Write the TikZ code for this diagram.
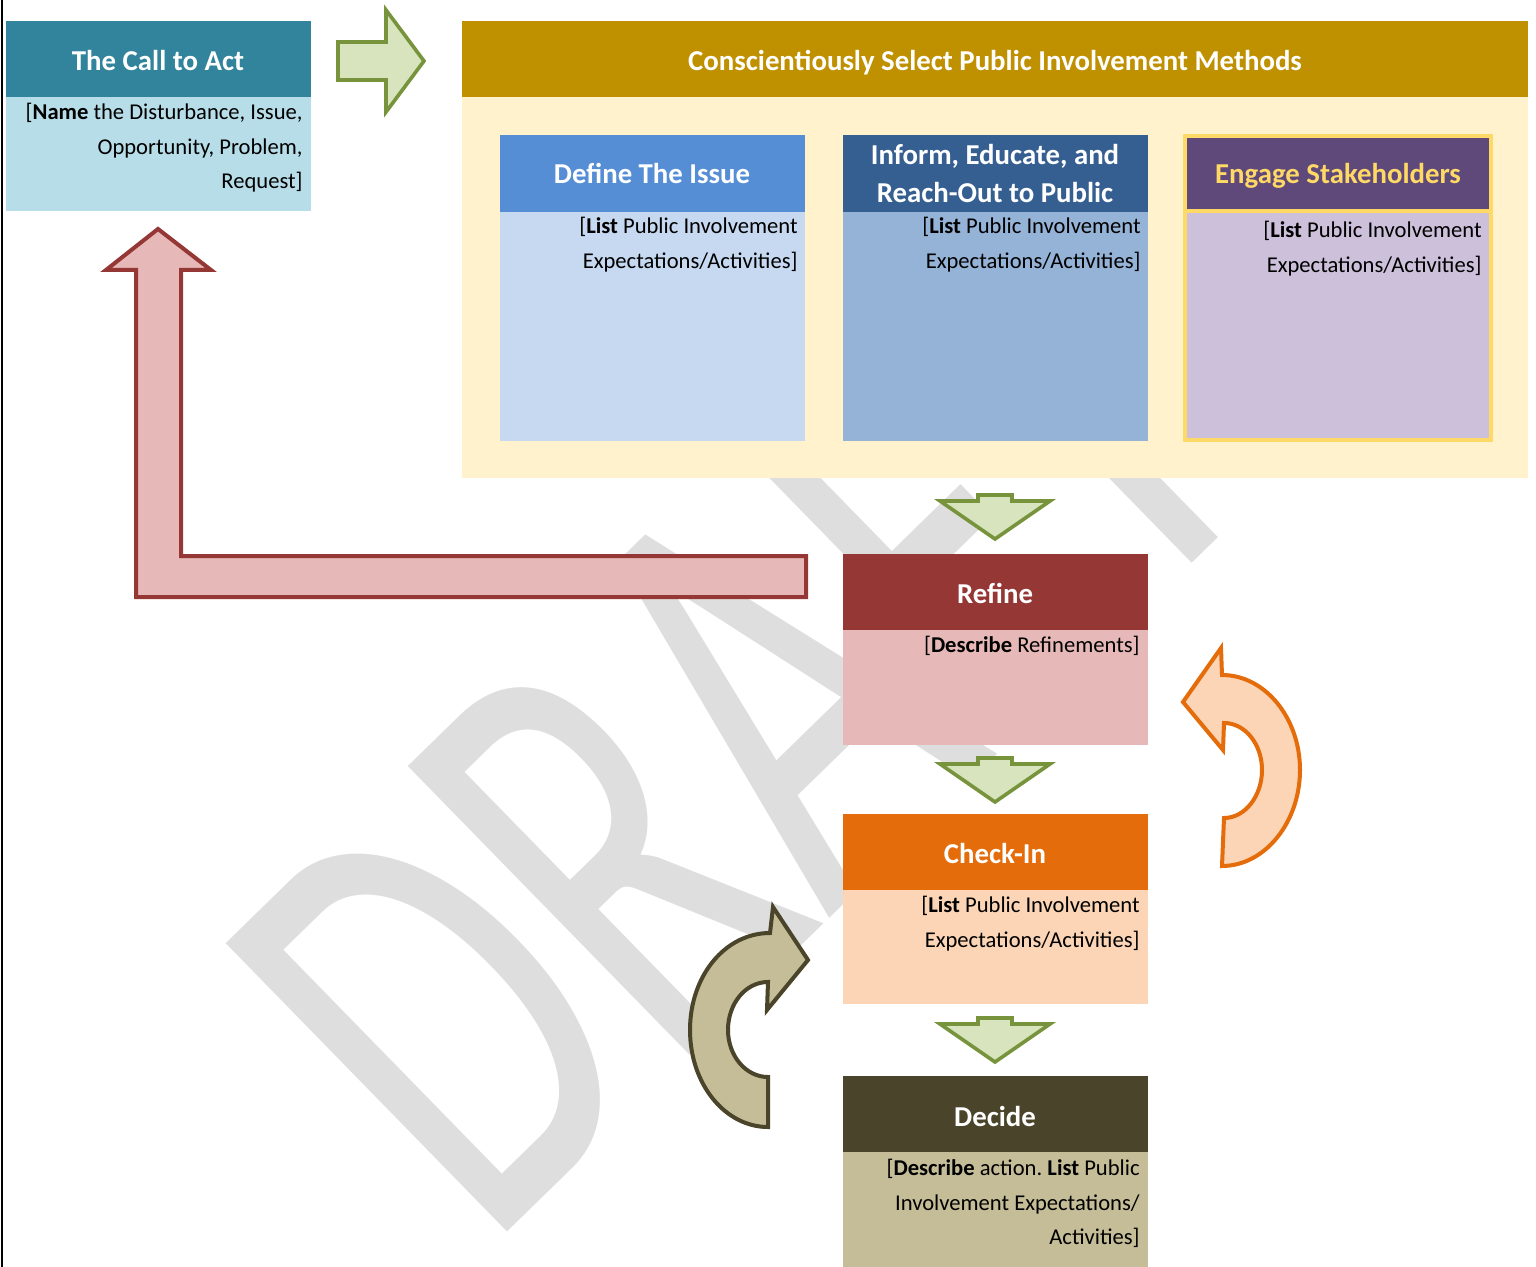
\documentclass[tikz,border=0pt]{standalone}
\usepackage{fontspec}
\usepackage{graphicx}
\setmainfont{Carlito}
\frenchspacing
\usetikzlibrary{fit}
\definecolor{tealH}{HTML}{31849B}
\definecolor{tealB}{HTML}{B7DEE8}
\definecolor{goldH}{HTML}{BF9000}
\definecolor{cream}{HTML}{FFF2CC}
\definecolor{defH}{HTML}{558ED5}
\definecolor{defB}{HTML}{C6D9F1}
\definecolor{infH}{HTML}{365F91}
\definecolor{infB}{HTML}{95B3D7}
\definecolor{engH}{HTML}{5F497A}
\definecolor{engB}{HTML}{CCC0DA}
\definecolor{engY}{HTML}{FFD966}
\definecolor{refH}{HTML}{953735}
\definecolor{refB}{HTML}{E6B9B8}
\definecolor{chkH}{HTML}{E46C0A}
\definecolor{chkB}{HTML}{FBD5B5}
\definecolor{decH}{HTML}{4A452A}
\definecolor{decB}{HTML}{C4BD97}
\definecolor{grF}{HTML}{D7E4BD}
\definecolor{grD}{HTML}{77933C}
\definecolor{wm}{HTML}{DEDEDE}
\tikzset{
  boxr/.style={inner sep=0pt, outer sep=0pt, draw=none},
  hdr/.style={inner sep=0pt, text=white, anchor=base, align=center,
    font=\fontsize{14.4bp}{19bp}\selectfont\bfseries},
  bodytxt/.style={inner sep=0pt, text=black, anchor=north east, align=right,
    font=\fontsize{11.3bp}{17.25bp}\selectfont},
  grarrow/.style={fill=grF, draw=grD, line width=1.8bp, line join=miter},
  redarrow/.style={fill=refB, draw=refH, line width=2bp},
  orarrow/.style={fill=chkB, draw=chkH, line width=2bp},
  olarrow/.style={fill=decB, draw=decH, line width=2bp},
}
\newcommand{\dnarrow}[2]{\draw[grarrow, shift={(#1,#2)}] (-17,0) -- (17,0) -- (17,6) -- (55,6) -- (0,44) -- (-55,6) -- (-17,6) -- cycle;}
\begin{document}
\begin{tikzpicture}[x=0.5bp,y=-0.5bp]
\useasboundingbox (0,0) rectangle (1536,1267);
\fill[white] (0,0) rectangle (1536,1267);
% watermark
\node[rotate=44.3, anchor=base west, inner sep=0pt, text=wm,
  font=\fontsize{314bp}{314bp}\selectfont] (draft) at (487,1252) {\scalebox{0.655}[1]{DRAFT}};
% left rule
\draw[line width=1.2bp, black] (2,0) -- (2,1267);
% call to act
\node[boxr, fill=tealH, fit={(6,21)(311,97)}] (callH) {};
\node[boxr, fill=tealB, fit={(6,97)(311,211)}] (callB) {};
\node[hdr] (callT) at (158,70.5) {The Call to Act};
\node[bodytxt] (callX) at (303,103) {[\textbf{Name} the Disturbance, Issue,\\Opportunity, Problem,\\Request]};
% select
\node[boxr, fill=goldH, fit={(462,21)(1528,97)}] (selH) {};
\node[boxr, fill=cream, fit={(462,97)(1528,478)}] (selB) {};
\node[hdr] (selT) at (995,70.5) {Conscientiously Select Public Involvement Methods};
% define
\node[boxr, fill=defH, fit={(500,135)(805,212)}] (defHb) {};
\node[boxr, fill=defB, fit={(500,212)(805,441)}] (defBb) {};
\node[hdr] (defT) at (652,184) {Define The Issue};
\node[bodytxt] (defX) at (798,217) {[\textbf{List} Public Involvement\\Expectations/Activities]};
% inform
\node[boxr, fill=infH, fit={(843,135)(1148,212)}] (infHb) {};
\node[boxr, fill=infB, fit={(843,212)(1148,441)}] (infBb) {};
\node[hdr] (infT) at (995,203) {Inform, Educate, and\\Reach-Out to Public};
\node[bodytxt] (infX) at (1141,217) {[\textbf{List} Public Involvement\\Expectations/Activities]};
% engage
\node[boxr, fill=engY, fit={(1183,134)(1493,442)}] (engF) {};
\node[boxr, fill=engH, fit={(1187,138)(1489,209)}] (engHb) {};
\node[boxr, fill=engB, fit={(1187,213)(1489,438)}] (engBb) {};
\node[hdr, text=engY] (engT) at (1338,184) {Engage Stakeholders};
\node[bodytxt] (engX) at (1482,221) {[\textbf{List} Public Involvement\\Expectations/Activities]};
% refine
\node[boxr, fill=refH, fit={(843,554)(1148,630)}] (refHb) {};
\node[boxr, fill=refB, fit={(843,630)(1148,745)}] (refBb) {};
\node[hdr] (refT) at (995,603) {Refine};
\node[bodytxt] (refX) at (1140,636) {[\textbf{Describe} Refinements]};
% check-in
\node[boxr, fill=chkH, fit={(843,814)(1148,890)}] (chkHb) {};
\node[boxr, fill=chkB, fit={(843,890)(1148,1004)}] (chkBb) {};
\node[hdr] (chkT) at (995,863) {Check-In};
\node[bodytxt] (chkX) at (1140,896) {[\textbf{List} Public Involvement\\Expectations/Activities]};
% decide
\node[boxr, fill=decH, fit={(843,1076)(1148,1152)}] (decHb) {};
\node[boxr, fill=decB, fit={(843,1152)(1148,1267)}] (decBb) {};
\node[hdr] (decT) at (995,1126) {Decide};
\node[bodytxt] (decX) at (1140,1159) {[\textbf{Describe} action. \textbf{List} Public\\Involvement Expectations/\\Activities]};
% arrows
\draw[grarrow] (338,42) -- (386,42) -- (386,10) -- (424,61) -- (386,112) -- (386,80) -- (338,80) -- cycle;
\dnarrow{995}{495}
\dnarrow{995}{758}
\dnarrow{995}{1018}
\draw[redarrow] (806,556) -- (181,556) -- (181,270) -- (211,270) -- (158,229) -- (106,270) -- (136,270) -- (136,597) -- (806,597) -- cycle;
\draw[orarrow] (1222,866) .. controls (1265,866) and (1300,822) .. (1300,770)
  .. controls (1300,718) and (1265,675) .. (1222,675) -- (1221,648) -- (1183,702)
  -- (1223,750) -- (1224,723) .. controls (1245,723) and (1262,744) .. (1262,770)
  .. controls (1262,796) and (1245,818) .. (1224,818) -- cycle;
\draw[olarrow] (768,1127) .. controls (725,1127) and (690,1084) .. (690,1030)
  .. controls (690,976) and (725,933) .. (770,933) -- (773,907) -- (808,960)
  -- (767,1010) -- (768,982) .. controls (746,982) and (728,1003) .. (728,1030)
  .. controls (728,1056) and (746,1077) .. (768,1077) -- cycle;
\end{tikzpicture}
\end{document}
